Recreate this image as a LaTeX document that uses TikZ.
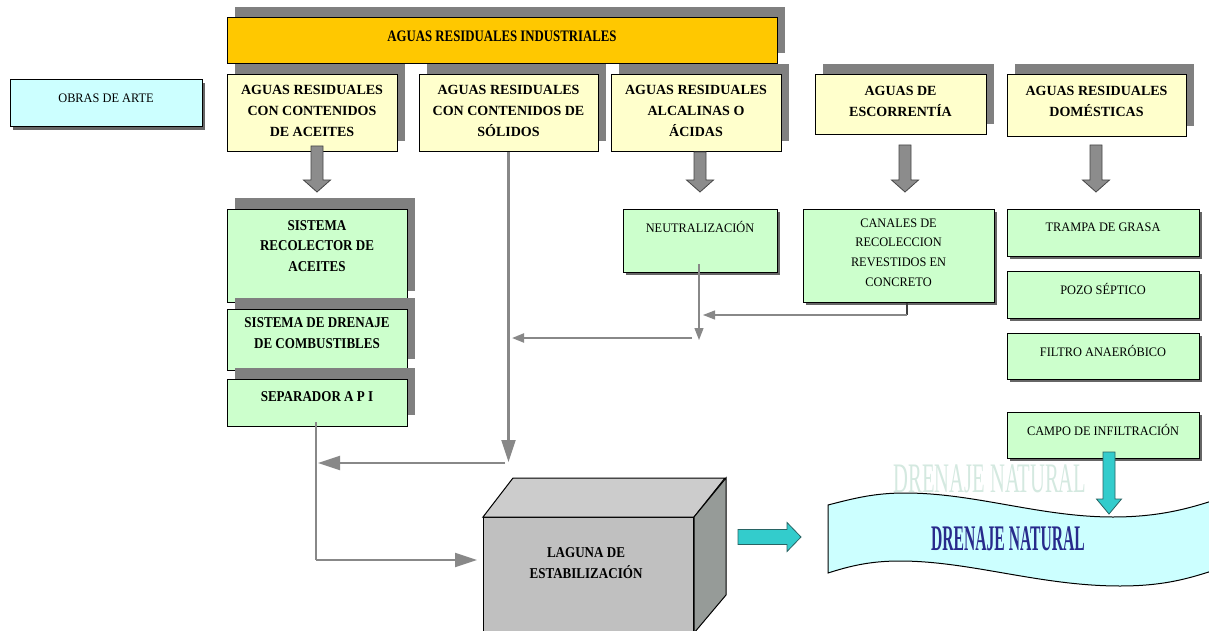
\documentclass[tikz,border=0pt]{standalone}
\usepackage{fontspec}
\setmainfont{Liberation Serif}
\newfontfamily\condA[FakeStretch=0.8]{Liberation Serif}
\newfontfamily\condB[FakeStretch=0.87]{Liberation Serif}
\newfontfamily\condC[FakeStretch=0.95]{Liberation Serif}
\newfontfamily\condD[FakeStretch=0.434]{Liberation Serif}
\newfontfamily\condE[FakeStretch=0.49]{Liberation Serif}
\usetikzlibrary{shadows,arrows.meta,calc}
\definecolor{orangebar}{RGB}{255,200,0}
\definecolor{ylw}{RGB}{255,255,204}
\definecolor{grn}{RGB}{204,255,204}
\definecolor{cyl}{RGB}{204,255,255}
\definecolor{shd}{RGB}{128,128,128}
\definecolor{lnk}{RGB}{136,136,136}
\definecolor{tealA}{RGB}{51,204,204}
\definecolor{tealB}{RGB}{40,100,100}
\definecolor{navyA}{RGB}{40,42,140}
\definecolor{ghostA}{RGB}{212,233,224}
\definecolor{cubefront}{RGB}{192,192,192}
\definecolor{cubetop}{RGB}{204,204,204}
\definecolor{cuberight}{RGB}{150,155,152}
\definecolor{garrow}{RGB}{140,140,140}
\definecolor{garrowline}{RGB}{70,70,70}
\newcommand\BlkDown[6]{%
  \path[#6] let \p1=(#1), \p2=(#2) in
  (\x1-#3pt,\y1) -- (\x1+#3pt,\y1) -- (\x1+#3pt,\y2+#5pt) -- (\x1+#4pt,\y2+#5pt)
  -- (\x1,\y2) -- (\x1-#4pt,\y2+#5pt) -- (\x1-#3pt,\y2+#5pt) -- cycle;}
\newcommand\BlkRight[6]{%
  \path[#6] let \p1=(#1), \p2=(#2) in
  (\x1,\y1+#3pt) -- (\x2-#5pt,\y1+#3pt) -- (\x2-#5pt,\y1+#4pt) -- (\x2,\y1)
  -- (\x2-#5pt,\y1-#4pt) -- (\x2-#5pt,\y1-#3pt) -- (\x1,\y1-#3pt) -- cycle;}
\begin{document}
\begin{tikzpicture}[x=1pt,y=-1pt,
  box/.style={draw=black, line width=1pt, inner sep=0pt},
  bigshadow/.style={drop shadow={shadow xshift=8pt, shadow yshift=11pt, fill=shd, opacity=1}},
  smallshadow/.style={drop shadow={shadow xshift=3pt, shadow yshift=-3pt, fill=black!60, opacity=1}},
  ytxt/.style={font={\fontsize{14}{21}\selectfont\bfseries}, align=center, inner sep=0pt},
  gtxt/.style={font={\fontsize{15}{20.5}\selectfont\condB\bfseries}, align=center, inner sep=0pt},
  rtxt/.style={font={\fontsize{13}{19.7}\selectfont\condC}, align=center, inner sep=0pt},
  garrowst/.style={fill=garrow, draw=garrowline, line width=0.8pt},
  tarrowst/.style={fill=tealA, draw=tealB, line width=0.8pt},
  lnkthick/.style={draw=lnk, line width=2.2pt, -{Triangle[length=22pt,width=14pt]}},
  lnkthin/.style={draw=lnk, line width=1.2pt, -{Triangle[length=12pt,width=9pt]}},
  lnkmid/.style={draw=lnk, line width=2.2pt, -{Triangle[length=12pt,width=9pt]}}
]
\useasboundingbox[fill=white] (0,0) rectangle (1209,631);

% top bar
\node[box, fill=orangebar, bigshadow, minimum width=550pt, minimum height=46pt] (top) at (502,41) {};
\node[font={\fontsize{16}{18}\selectfont\condA\bfseries}, inner sep=0pt] (topt) at (502,36) {AGUAS RESIDUALES INDUSTRIALES};

% obras de arte
\node[box, fill=cyl, smallshadow, minimum width=192pt, minimum height=47pt] (obras) at (106,103.5) {};
\node[rtxt] (obrast) at (106,98) {OBRAS DE ARTE};

% yellow boxes
\node[box, fill=ylw, bigshadow, minimum width=170pt, minimum height=77pt] (y1) at (312,113.5) {};
\node[ytxt] (y1t) at (312,111) {AGUAS RESIDUALES\\CON CONTENIDOS\\DE ACEITES};
\node[box, fill=ylw, bigshadow, minimum width=179pt, minimum height=77pt] (y2) at (508.5,113.5) {};
\node[ytxt] (y2t) at (508.5,111) {AGUAS RESIDUALES\\CON CONTENIDOS DE\\SÓLIDOS};
\node[box, fill=ylw, bigshadow, minimum width=170pt, minimum height=77pt] (y3) at (696,113.5) {};
\node[ytxt] (y3t) at (696,111) {AGUAS RESIDUALES\\ALCALINAS O\\ÁCIDAS};
\node[box, fill=ylw, bigshadow, minimum width=171pt, minimum height=60pt] (y4) at (900.5,105) {};
\node[ytxt] (y4t) at (900.5,101) {AGUAS DE\\ESCORRENTÍA};
\node[box, fill=ylw, bigshadow, minimum width=179pt, minimum height=62pt] (y5) at (1096.5,106) {};
\node[ytxt] (y5t) at (1096.5,101) {AGUAS RESIDUALES\\DOMÉSTICAS};

% left green boxes
\node[box, fill=grn, bigshadow, minimum width=180pt, minimum height=93pt] (rec) at (317,255.5) {};
\node[gtxt] (rect) at (317,246) {SISTEMA\\RECOLECTOR DE\\ACEITES};
\node[box, fill=grn, bigshadow, minimum width=180pt, minimum height=61pt] (comb) at (317,339.5) {};
\node[gtxt] (combt) at (317,333) {SISTEMA DE DRENAJE\\DE COMBUSTIBLES};
\node[box, fill=grn, bigshadow, minimum width=180pt, minimum height=47pt] (api) at (317,402.5) {};
\node[gtxt] (apit) at (317,397) {SEPARADOR A P I};

% right green boxes
\node[box, fill=grn, smallshadow, minimum width=154pt, minimum height=63pt] (neu) at (700,240.5) {};
\node[rtxt] (neut) at (700,227) {NEUTRALIZACIÓN};
\node[box, fill=grn, smallshadow, minimum width=191pt, minimum height=93pt] (can) at (898.5,255.5) {};
\node[rtxt] (cant) at (898.5,252.5) {CANALES DE\\RECOLECCION\\REVESTIDOS EN\\CONCRETO};
\node[box, fill=grn, smallshadow, minimum width=192pt, minimum height=47pt] (tra) at (1103,232.5) {};
\node[rtxt] (trat) at (1103,227) {TRAMPA DE GRASA};
\node[box, fill=grn, smallshadow, minimum width=192pt, minimum height=47pt] (poz) at (1103,294.5) {};
\node[rtxt] (pozt) at (1103,289) {POZO SÉPTICO};
\node[box, fill=grn, smallshadow, minimum width=192pt, minimum height=46pt] (fil) at (1103,356) {};
\node[rtxt] (filt) at (1103,351) {FILTRO ANAERÓBICO};
\node[box, fill=grn, smallshadow, minimum width=192pt, minimum height=46pt] (cam) at (1103,435) {};
\node[rtxt] (camt) at (1103,430) {CAMPO DE INFILTRACIÓN};

% gray block arrows
\coordinate (g1a) at (317,146); \coordinate (g1b) at (317,192);
\coordinate (g3a) at (700,152); \coordinate (g3b) at (700,192);
\coordinate (g4a) at (905,145); \coordinate (g4b) at (905,192);
\coordinate (g5a) at (1096,145); \coordinate (g5b) at (1096,192);
\BlkDown{g1a}{g1b}{6}{13.5}{12}{garrowst}
\BlkDown{g3a}{g3b}{6}{13.5}{12}{garrowst}
\BlkDown{g4a}{g4b}{6}{13.5}{12}{garrowst}
\BlkDown{g5a}{g5b}{6}{13.5}{12}{garrowst}

% connectors
\coordinate (nv0) at (699,264); \coordinate (nv1) at (699,340);
\coordinate (h1a) at (692,338); \coordinate (h1b) at (512,338);
\coordinate (cv1) at (907,315); \coordinate (cv2) at (703,315);
\coordinate (sv1) at (508.5,462);
\coordinate (h2a) at (505,463); \coordinate (h2b) at (318,463);
\coordinate (av0) at (316,422); \coordinate (av1) at (316,560); \coordinate (av2) at (477,560);
\draw[lnkthin] (nv0) -- (nv1);
\draw[lnkmid] (h1a) -- (h1b);
\draw[draw=black!75, line width=1.2pt] (can.south -| cv1) -- (cv1);
\draw[lnkthin] (cv1) -- (cv2);
\draw[lnkthick] (y2.south) -- (sv1);
\draw[lnkthick] (h2a) -- (h2b);
\draw[draw=lnk, line width=2.2pt] (av0) -- (av1);
\draw[lnkthick] (av1) -- (av2);

% cube (laguna)
\node[draw=black, line width=1pt, fill=cubefront, inner sep=0pt, minimum width=210pt, minimum height=126pt, anchor=north west] (lag) at (483,517) {};
\draw[fill=cubetop, line width=1pt] (lag.north west) -- ++(30,-39) -- ++(212,0) -- (lag.north east) -- cycle;
\draw[fill=cuberight, line width=1pt] (lag.north east) -- ++(32,-39) -- ++(0,117) -- ++(-32,38) -- cycle;
\node[font={\fontsize{15}{21}\selectfont\condB\bfseries}, align=center, inner sep=0pt] (lagt) at (586,563) {LAGUNA DE\\ESTABILIZACIÓN};

% natural drainage
\node[font={\fontsize{42}{44}\selectfont\condE}, text=ghostA, inner sep=0pt] (ghost) at (990,479) {DRENAJE NATURAL};
\draw[fill=cyl, line width=1pt] (828,505) .. controls (855,498) and (875,493) .. (905,493)
  .. controls (975,493) and (1040,517) .. (1113,517)
  .. controls (1160,517) and (1190,508) .. (1215,500) -- (1215,570)
  .. controls (1190,578) and (1165,586) .. (1120,586)
  .. controls (1040,586) and (970,561) .. (900,561)
  .. controls (870,561) and (850,566) .. (828,573) -- cycle;
\node[font={\fontsize{36}{40}\selectfont\condD\bfseries}, text=navyA, inner sep=0pt] (dren) at (1008,539) {DRENAJE NATURAL};

% teal arrows
\coordinate (t1a) at (738,537); \coordinate (t1b) at (801,537);
\BlkRight{t1a}{t1b}{7.5}{14.5}{14}{tarrowst}
\coordinate (t2a) at (1109,452); \coordinate (t2b) at (1109,514);
\BlkDown{t2a}{t2b}{6}{12.5}{15}{tarrowst}
\end{tikzpicture}
\end{document}
